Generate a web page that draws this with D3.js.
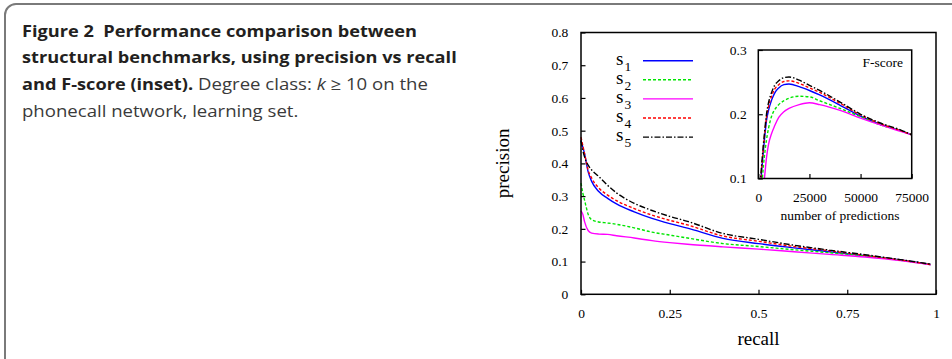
<!DOCTYPE html>
<html lang="en">
<head>
<meta charset="UTF-8">
<script src="https://d3js.org/d3.v7.min.js"></script>
<style>
  body { margin: 0; background: #fff; }
  svg { display: block; }
</style>
</head>
<body>
<div id="chart"></div>
<script>
    // ---- data ----
    var seriesNames = ["1", "2", "3", "4", "5"];
    var seriesColors = ["#0000ff", "#00e600", "#ff00ff", "#ff0000", "#000000"];
    var seriesDash = ["none", "3,2", "none", "3,2", "6,2,1.5,2"];

    // precision vs recall (main plot)
    var recall = [0, 0.005, 0.01, 0.02, 0.03, 0.05, 0.075, 0.1, 0.15, 0.2, 0.25, 0.3, 0.4, 0.5, 0.6, 0.7, 0.8, 0.9, 0.985];
    var precS1 = [0.47, 0.45, 0.43, 0.375, 0.345, 0.314, 0.293, 0.276, 0.252, 0.232, 0.216, 0.202, 0.171, 0.155, 0.142, 0.130, 0.118, 0.105, 0.091];
    var precS2 = [0.34, 0.31, 0.288, 0.245, 0.228, 0.221, 0.218, 0.214, 0.203, 0.190, 0.181, 0.172, 0.155, 0.146, 0.136, 0.127, 0.117, 0.104, 0.091];
    var precS3 = [0.255, 0.245, 0.222, 0.195, 0.187, 0.184, 0.183, 0.179, 0.172, 0.164, 0.158, 0.153, 0.145, 0.138, 0.130, 0.122, 0.114, 0.103, 0.090];
    var precS4 = [0.48, 0.455, 0.43, 0.38, 0.355, 0.325, 0.303, 0.286, 0.262, 0.242, 0.226, 0.212, 0.178, 0.162, 0.146, 0.133, 0.119, 0.105, 0.091];
    var precS5 = [0.47, 0.44, 0.42, 0.395, 0.38, 0.36, 0.333, 0.310, 0.278, 0.256, 0.238, 0.223, 0.186, 0.168, 0.150, 0.135, 0.121, 0.106, 0.092];

    // F-score vs number of predictions (inset)
    var predictions = [0, 1000, 2000, 3000, 4000, 5000, 6500, 8000, 10000, 12500, 15000, 20000, 25000, 30000, 40000, 50000, 60000, 70000, 75000];
    var fS1 = [0, 0.08, 0.125, 0.16, 0.19, 0.206, 0.222, 0.233, 0.241, 0.246, 0.247, 0.243, 0.237, 0.230, 0.214, 0.197, 0.184, 0.174, 0.168];
    var fS2 = [0, 0.05, 0.10, 0.135, 0.16, 0.178, 0.197, 0.207, 0.215, 0.221, 0.225, 0.228, 0.227, 0.221, 0.209, 0.196, 0.183, 0.174, 0.168];
    var fS3 = [0, 0.03, 0.07, 0.10, 0.132, 0.153, 0.17, 0.182, 0.195, 0.204, 0.209, 0.215, 0.218, 0.215, 0.206, 0.194, 0.183, 0.173, 0.168];
    var fS4 = [0, 0.085, 0.13, 0.165, 0.195, 0.212, 0.228, 0.239, 0.246, 0.251, 0.252, 0.248, 0.241, 0.234, 0.217, 0.199, 0.185, 0.174, 0.168];
    var fS5 = [0, 0.09, 0.135, 0.17, 0.20, 0.218, 0.234, 0.245, 0.252, 0.257, 0.258, 0.253, 0.245, 0.237, 0.219, 0.200, 0.186, 0.175, 0.168];

    var mainTicksX = [0, 0.25, 0.5, 0.75, 1];
    var mainTicksY = [0, 0.1, 0.2, 0.3, 0.4, 0.5, 0.6, 0.7, 0.8];
    var insetTicksX = [0, 25000, 50000, 75000];
    var insetTicksY = [0.1, 0.2, 0.3];

    var precData = [precS1, precS2, precS3, precS4, precS5];
    var fData = [fS1, fS2, fS3, fS4, fS5];

    var W = 952, H = 359;
    var serif = "'Liberation Serif', 'Times New Roman', serif";

    var svg = d3.select("#chart").append("svg")
        .attr("width", W)
        .attr("height", H);

    // card border
    svg.append("rect")
        .attr("x", 5).attr("y", 4)
        .attr("width", 1000).attr("height", 400)
        .attr("rx", 11)
        .attr("fill", "none")
        .attr("stroke", "#7a7a7a")
        .attr("stroke-width", 2);

    // ---- caption ----
    function captionText(parts, bold) {
        var txt = svg.append("g").append("text")
            .attr("font-family", "'Open Sans', sans-serif")
            .attr("font-size", 16.5)
            .attr("font-weight", bold ? 700 : 400)
            .attr("fill", bold ? "#231f20" : "#3a3a3a");
        parts.forEach(function (p) {
            txt.append("tspan").text(p.t).attr("font-style", p.i ? "italic" : "normal");
        });
        return txt;
    }
    var b1 = captionText([{ t: "Figure 2\u00a0\u00a0Performance comparison between" }], true);
    var b2 = captionText([{ t: "structural benchmarks, using precision vs recall" }], true);
    var b3 = captionText([{ t: "and F-score (inset)." }], true);
    var n3 = captionText([{ t: "Degree class: " }, { t: "k", i: true }, { t: " \u2265 10 on the" }], false);
    var n4 = captionText([{ t: "phonecall network, learning set." }], false);

    function len(t) { return t.node().getComputedTextLength(); }
    function place(t, x0, y0, s) {
        d3.select(t.node().parentNode)
            .attr("transform", "translate(" + x0 + "," + y0 + ") scale(" + s + ",1)");
    }
    // bold squeeze from lines 1-2, regular squeeze from the end of line 3
    var boldScale = (399 + 431) / (len(b1) + len(b2));
    place(b1, 22, 36.7, boldScale);
    place(b2, 22, 63.3, boldScale);
    place(b3, 22, 90, boldScale);
    var n3start = 22 + len(b3) * boldScale + 5;
    var normScale = (428 - n3start) / len(n3);
    place(n3, n3start, 90, normScale);
    place(n4, 22, 116.7, normScale);

    // ---- main plot ----
    var mL = 581, mR = 936, mT = 32.5, mB = 294.3;
    var x = d3.scaleLinear().domain([0, 1]).range([mL, mR]);
    var y = d3.scaleLinear().domain([0, 0.8]).range([mB, mT]);

    var xAxis = svg.append("g")
        .attr("transform", "translate(0," + mB + ")")
        .call(d3.axisBottom(x).tickValues(mainTicksX).tickSizeInner(-4.5).tickSizeOuter(0)
            .tickPadding(14.5).tickFormat(d3.format("")));
    var yAxis = svg.append("g")
        .attr("transform", "translate(" + mL + ",0)")
        .call(d3.axisLeft(y).tickValues(mainTicksY).tickSizeInner(-4.5).tickSizeOuter(0)
            .tickPadding(12.7).tickFormat(d3.format("")));

    [xAxis, yAxis].forEach(function (a) {
        a.select(".domain").remove();
        a.selectAll("line").attr("stroke", "#000").attr("stroke-width", 1.2);
        a.selectAll("text").attr("font-family", serif).attr("font-size", 13.5).attr("fill", "#000");
    });

    var mainLine = d3.line()
        .x(function (d, i) { return x(recall[i]); })
        .y(function (d) { return y(d); })
        .curve(d3.curveMonotoneX);

    svg.append("g").selectAll("path")
        .data(precData)
        .enter()
        .append("path")
        .attr("d", mainLine)
        .attr("fill", "none")
        .attr("stroke", function (d, i) { return seriesColors[i]; })
        .attr("stroke-dasharray", function (d, i) { return seriesDash[i]; })
        .attr("stroke-width", 1.4);

    svg.append("rect")
        .attr("x", mL).attr("y", mT)
        .attr("width", mR - mL).attr("height", mB - mT)
        .attr("fill", "none").attr("stroke", "#000").attr("stroke-width", 1.5);

    svg.append("text")
        .attr("x", (mL + mR) / 2).attr("y", 345)
        .attr("text-anchor", "middle")
        .attr("font-family", serif).attr("font-size", 19)
        .text("recall");
    svg.append("text")
        .attr("transform", "translate(509," + ((mT + mB) / 2) + ") rotate(-90)")
        .attr("text-anchor", "middle")
        .attr("font-family", serif).attr("font-size", 19)
        .text("precision");

    // legend
    var legend = svg.append("g").selectAll("g")
        .data(seriesNames)
        .enter()
        .append("g")
        .attr("transform", function (d, i) { return "translate(0," + (60.7 + i * 19.1) + ")"; });
    legend.append("line")
        .attr("x1", 643).attr("x2", 693)
        .attr("stroke", function (d, i) { return seriesColors[i]; })
        .attr("stroke-dasharray", function (d, i) { return seriesDash[i]; })
        .attr("stroke-width", 1.4);
    legend.append("text")
        .attr("x", 616).attr("y", 4.3)
        .attr("font-family", serif).attr("font-size", 19)
        .text("s");
    legend.append("text")
        .attr("x", 624.5).attr("y", 9.8)
        .attr("font-family", serif).attr("font-size", 13.5)
        .text(function (d) { return d; });

    // ---- inset ----
    var iL = 758.3, iR = 911.7, iT = 50, iB = 178.5;
    var xi = d3.scaleLinear().domain([0, 75000]).range([iL, iR]);
    var yi = d3.scaleLinear().domain([0.1, 0.3]).range([iB, iT]);

    svg.append("rect")
        .attr("x", iL).attr("y", iT)
        .attr("width", iR - iL).attr("height", iB - iT)
        .attr("fill", "#fff");

    svg.append("clipPath").attr("id", "insetClip")
        .append("rect")
        .attr("x", iL).attr("y", iT)
        .attr("width", iR - iL).attr("height", iB - iT);

    var xiAxis = svg.append("g")
        .attr("transform", "translate(0," + iB + ")")
        .call(d3.axisBottom(xi).tickValues(insetTicksX).tickSizeInner(-4.5).tickSizeOuter(0)
            .tickPadding(14.3).tickFormat(d3.format("d")));
    var yiAxis = svg.append("g")
        .attr("transform", "translate(" + iL + ",0)")
        .call(d3.axisLeft(yi).tickValues(insetTicksY).tickSizeInner(-4.5).tickSizeOuter(0)
            .tickPadding(11.6).tickFormat(d3.format("")));
    [xiAxis, yiAxis].forEach(function (a) {
        a.select(".domain").remove();
        a.selectAll("line").attr("stroke", "#000").attr("stroke-width", 1.2);
        a.selectAll("text").attr("font-family", serif).attr("font-size", 13.5).attr("fill", "#000");
    });

    var insetLine = d3.line()
        .x(function (d, i) { return xi(predictions[i]); })
        .y(function (d) { return yi(d); })
        .curve(d3.curveMonotoneX);

    svg.append("g")
        .attr("clip-path", "url(#insetClip)")
        .selectAll("path")
        .data(fData)
        .enter()
        .append("path")
        .attr("d", insetLine)
        .attr("fill", "none")
        .attr("stroke", function (d, i) { return seriesColors[i]; })
        .attr("stroke-dasharray", function (d, i) { return seriesDash[i]; })
        .attr("stroke-width", 1.4);

    svg.append("rect")
        .attr("x", iL).attr("y", iT)
        .attr("width", iR - iL).attr("height", iB - iT)
        .attr("fill", "none").attr("stroke", "#000").attr("stroke-width", 1.5);

    svg.append("text")
        .attr("x", 903).attr("y", 67)
        .attr("text-anchor", "end")
        .attr("font-family", serif).attr("font-size", 13.5)
        .text("F-score");
    svg.append("text")
        .attr("x", 840).attr("y", 220)
        .attr("text-anchor", "middle")
        .attr("font-family", serif).attr("font-size", 13.5)
        .text("number of predictions");
</script>
</body>
</html>
